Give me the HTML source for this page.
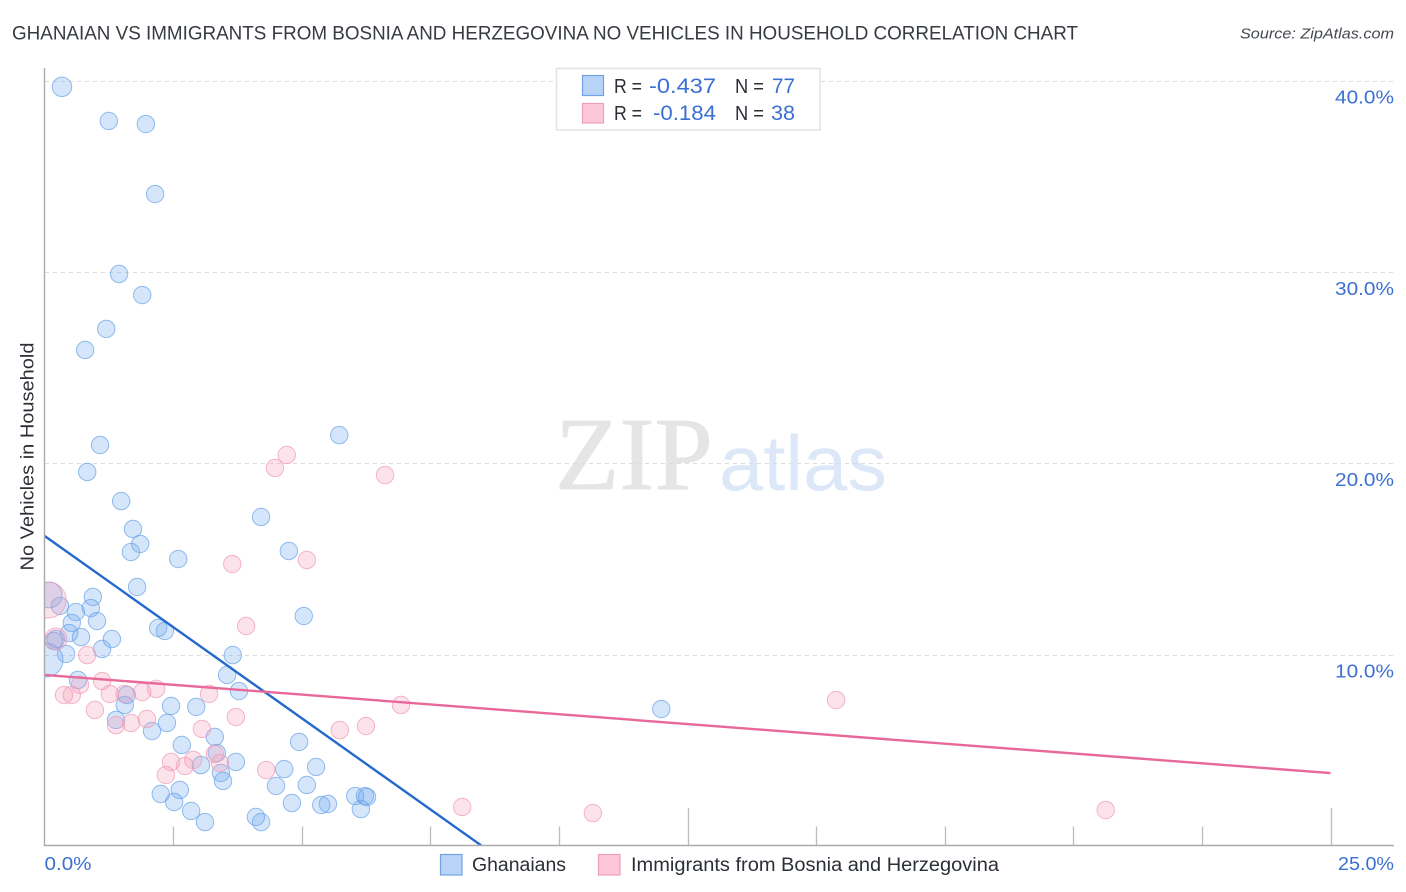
<!DOCTYPE html>
<html lang="en">
<head>
<meta charset="utf-8">
<title>Ghanaian vs Immigrants from Bosnia and Herzegovina No Vehicles in Household Correlation Chart</title>
<style>
html,body{margin:0;padding:0;background:#fff;}
svg{display:block;font-family:"Liberation Sans",sans-serif;}
</style>
</head>
<body>
<svg id="chart" xmlns="http://www.w3.org/2000/svg" width="1406" height="892" viewBox="0 0 1406 892">
  <defs>
    <clipPath id="plot-clip"><rect x="44.5" y="60" width="1350" height="785.5"></rect></clipPath>
  </defs>
  <rect x="0" y="0" width="1406" height="892" fill="#ffffff"></rect>
  <text x="12" y="39.5" font-size="19.5" fill="#363a41" textLength="1066" lengthAdjust="spacingAndGlyphs">GHANAIAN VS IMMIGRANTS FROM BOSNIA AND HERZEGOVINA NO VEHICLES IN HOUSEHOLD CORRELATION CHART</text>
  <text x="1394" y="38.5" font-size="15" font-style="italic" fill="#44484f" text-anchor="end" textLength="154" lengthAdjust="spacingAndGlyphs">Source: ZipAtlas.com</text>

  <g>
    <text x="555" y="489" font-family="'Liberation Serif',serif" font-size="104" fill="#e5e5e5" stroke="#e5e5e5" stroke-width="0.8" textLength="158" lengthAdjust="spacingAndGlyphs">ZIP</text>
    <text x="719" y="490" font-size="78" fill="#dce8f8" textLength="168" lengthAdjust="spacingAndGlyphs">atlas</text>
  </g>

  <g id="grid"></g>
  <g id="points" clip-path="url(#plot-clip)"></g>
  <g id="trends" clip-path="url(#plot-clip)"></g>
  <g id="axes"></g>
  <g id="tick-labels"></g>

  <text transform="translate(33.5,456.5) rotate(-90)" font-size="18.5" fill="#2b2f36" text-anchor="middle" textLength="228" lengthAdjust="spacingAndGlyphs">No Vehicles in Household</text>

  <g>
    <rect x="556.5" y="68.5" width="263.5" height="61.5" fill="#ffffff" fill-opacity="0.92" stroke="#e2e2e2" stroke-width="1.5"></rect>
    <rect x="582.5" y="75.5" width="21" height="20" fill="#b9d3f6" stroke="#6fa3e6" stroke-width="1.2"></rect>
    <rect x="582.5" y="103.5" width="21" height="19.5" fill="#fec7d8" stroke="#ee9fb9" stroke-width="1.2"></rect>
    <text x="614" y="93" font-size="20" fill="#2b2f36" textLength="28" lengthAdjust="spacingAndGlyphs">R =</text>
    <text x="649" y="93" font-size="21" fill="#3b70d2" textLength="67" lengthAdjust="spacingAndGlyphs">-0.437</text>
    <text x="735" y="93" font-size="20" fill="#2b2f36" textLength="29" lengthAdjust="spacingAndGlyphs">N =</text>
    <text x="772" y="93" font-size="21" fill="#3b70d2" textLength="23" lengthAdjust="spacingAndGlyphs">77</text>
    <text x="614" y="120" font-size="20" fill="#2b2f36" textLength="28" lengthAdjust="spacingAndGlyphs">R =</text>
    <text x="653" y="120" font-size="21" fill="#3b70d2" textLength="63" lengthAdjust="spacingAndGlyphs">-0.184</text>
    <text x="735" y="120" font-size="20" fill="#2b2f36" textLength="29" lengthAdjust="spacingAndGlyphs">N =</text>
    <text x="771" y="120" font-size="21" fill="#3b70d2" textLength="24" lengthAdjust="spacingAndGlyphs">38</text>
  </g>

  <g>
    <rect x="440.5" y="854.5" width="21.5" height="20.5" fill="#b9d3f6" stroke="#6fa3e6" stroke-width="1.2"></rect>
    <text x="472" y="871" font-size="19" fill="#2b2f36" textLength="94" lengthAdjust="spacingAndGlyphs">Ghanaians</text>
    <rect x="598.5" y="854.5" width="21.5" height="20.5" fill="#fec7d8" stroke="#ee9fb9" stroke-width="1.2"></rect>
    <text x="631" y="871" font-size="19" fill="#2b2f36" textLength="368" lengthAdjust="spacingAndGlyphs">Immigrants from Bosnia and Herzegovina</text>
  </g>
</svg>
<script>
const yTickValues = [10, 20, 30, 40];
const yTickLabels = ["10.0%", "20.0%", "30.0%", "40.0%"];
const xTickValues = [2.5, 5, 7.5, 10, 12.5, 15, 17.5, 20, 22.5, 25];
const xMajorTicks = [12.5, 25];
const xEndValues = [0, 25];
const xEndLabels = ["0.0%", "25.0%"];

const ghanaianX = [0.34,1.25,1.97,2.15,1.45,1.90,1.20,0.79,5.73,1.08,0.83,1.49,4.21,1.72,1.86,1.68,4.75,2.60,1.80,5.04,3.66,11.99,0.94,0.90,0.61,1.02,0.53,0.48,0.71,1.31,1.12,0.42,0.18,0.22,0.30,0.09,0.03,2.21,2.34,0.65,1.60,1.56,2.46,1.39,2.95,3.78,3.55,2.38,2.09,3.31,2.67,3.35,3.72,3.04,3.43,3.47,2.63,2.26,2.52,2.85,3.12,4.11,4.21,4.95,4.66,5.28,4.50,5.10,4.81,5.38,5.51,6.04,6.23,6.27,6.15,7.24,5.20];
const ghanaianY = [39.67,37.89,37.73,34.07,29.89,28.79,27.02,25.92,21.47,20.95,19.54,18.02,17.19,16.56,15.78,15.36,15.41,14.99,13.53,12.01,9.97,7.15,13.01,12.43,12.22,11.75,11.65,11.12,10.91,10.81,10.29,10.03,10.71,10.81,12.54,13.11,9.71,11.39,11.23,8.67,7.88,7.36,7.31,6.58,7.26,8.09,8.93,6.42,6.00,5.69,5.27,4.85,4.38,4.22,3.81,3.39,2.92,2.71,2.29,1.82,1.24,1.51,1.24,5.43,4.01,4.12,3.13,3.18,2.24,2.13,2.19,2.60,2.60,2.55,1.92,2.08,0.83];
const ghanaianWeight = [1.25,1,1,1,1,1,1,1,1,1,1,1,1,1,1,1,1,1,1,1,1,1,1,1,1,1,1,1,1,1,1,1,1,1,1,2.2,3.8,1,1,1,1,1,1,1,1,1,1,1,1,1,1,1,1,1,1,1,1,1,1,1,1,1,1,1,1,1,1,1,1,1,1,1,1,1,1];

const immigrantX = [0.07,0.22,0.83,0.69,1.12,0.38,0.53,1.27,1.56,1.90,2.17,0.98,3.20,3.72,1.99,1.68,1.39,3.06,3.31,3.41,2.89,2.46,2.73,2.36,4.31,5.74,6.25,6.93,4.71,4.48,6.62,3.65,5.10,3.92,15.39,8.12,10.66,20.63];
const immigrantY = [12.85,10.81,9.97,8.41,8.61,7.88,7.88,7.94,7.94,8.04,8.20,7.10,7.94,6.73,6.63,6.42,6.31,6.11,4.80,4.33,4.49,4.38,4.17,3.70,3.96,6.05,6.26,7.36,20.43,19.75,19.38,14.73,14.94,11.49,7.62,2.03,1.71,1.87];
const immigrantWeight = [4.3,1.6,1,1,1,1,1,1,1,1,1,1,1,1,1,1,1,1,1,1,1,1,1,1,1,1,1,1,1,1,1,1,1,1,1,1,1,1];

const ghanaianTrendX = [0, 8.5];
const ghanaianTrendY = [16.2, 0];
const immigrantTrendX = [0, 25];
const immigrantTrendY = [8.93, 3.8];

const SVGNS = "http://www.w3.org/2000/svg";
function xPos(v) { return 44.5 + v * 51.44; }
function yPos(v) { return 845.8 - v * 19.13; }
function radius(w) { return 8.7 * Math.sqrt(w); }
function make(tag, attrs, parent) {
  const el = document.createElementNS(SVGNS, tag);
  for (const k in attrs) el.setAttribute(k, attrs[k]);
  parent.appendChild(el);
  return el;
}

const gridG = document.getElementById("grid");
const axesG = document.getElementById("axes");
const labelsG = document.getElementById("tick-labels");
const pointsG = document.getElementById("points");
const trendsG = document.getElementById("trends");

yTickValues.forEach(function (v, i) {
  const y = Math.round(yPos(v)) + 0.5;
  const line = make("line", { x1: 45, x2: 1393, y1: y, y2: y, stroke: "#dcdcdc", "stroke-width": 1, "stroke-dasharray": "4 4" }, gridG);
  
  
  const t = make("text", { x: 1394, y: yPos(v) + 23, "font-size": 18.5, fill: "#3b70d2", "text-anchor": "end", textLength: 59, lengthAdjust: "spacingAndGlyphs" }, labelsG);
  
  
  t.textContent = yTickLabels[i];
});

xTickValues.forEach(function (v) {
  const x = Math.round(xPos(v)) + 0.5;
  const top = xMajorTicks.indexOf(v) >= 0 ? 808 : 826.5;
  const tick = make("line", { x1: x, x2: x, y1: top, y2: 845, stroke: "#bdbdbd", "stroke-width": 1.3 }, axesG);
  
  
});

xEndValues.forEach(function (v, i) {
  const t = make("text", { x: i === 0 ? xPos(v) : 1394, y: 870, "font-size": 18.5, fill: "#3b70d2", "text-anchor": i === 0 ? "start" : "end", textLength: i === 0 ? 47 : 56, lengthAdjust: "spacingAndGlyphs" }, labelsG);
  
  
  t.textContent = xEndLabels[i];
});

const yAxis = make("line", { x1: 44.5, x2: 44.5, y1: 68, y2: 846, stroke: "#ababab", "stroke-width": 1.4 }, axesG);


const xAxis = make("line", { x1: 44, x2: 1394, y1: 845.5, y2: 845.5, stroke: "#ababab", "stroke-width": 1.4 }, axesG);



ghanaianX.forEach(function (v, i) {
  const c = make("circle", { cx: xPos(v), cy: yPos(ghanaianY[i]), r: radius(ghanaianWeight[i]), fill: "#6aa5ec", "fill-opacity": 0.28, stroke: "#6aa3e8", "stroke-opacity": 0.72, "stroke-width": 1 }, pointsG);
  
  
});

immigrantX.forEach(function (v, i) {
  const c = make("circle", { cx: xPos(v), cy: yPos(immigrantY[i]), r: radius(immigrantWeight[i]), fill: "#f59ab7", "fill-opacity": 0.28, stroke: "#f09ab5", "stroke-opacity": 0.72, "stroke-width": 1 }, pointsG);
  
  
});

const blueLine = make("line", { x1: xPos(ghanaianTrendX[0]), y1: yPos(ghanaianTrendY[0]), x2: xPos(ghanaianTrendX[1]), y2: yPos(ghanaianTrendY[1]), stroke: "#2569cc", "stroke-width": 2.4 }, trendsG);


const pinkLine = make("line", { x1: xPos(immigrantTrendX[0]), y1: yPos(immigrantTrendY[0]), x2: xPos(immigrantTrendX[1]), y2: yPos(immigrantTrendY[1]), stroke: "#e8689a", "stroke-width": 2.4 }, trendsG);


</script>
</body>
</html>
